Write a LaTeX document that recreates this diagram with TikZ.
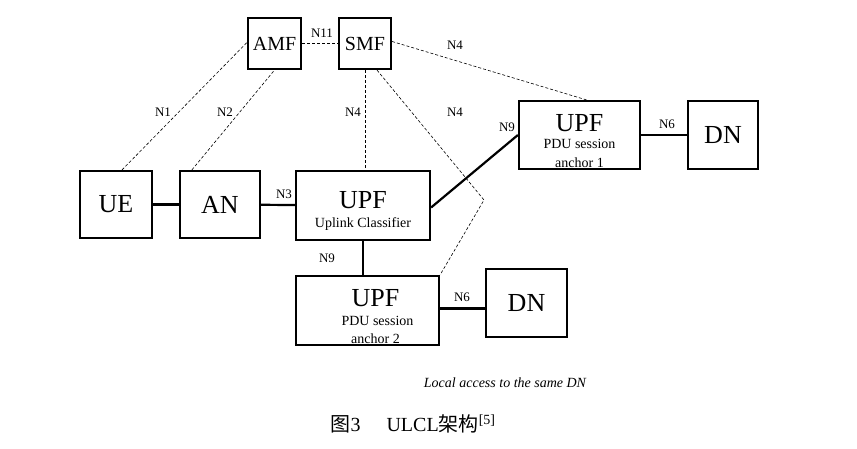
\documentclass[tikz,border=0pt]{standalone}
\usepackage{fontspec}
\setmainfont{Liberation Serif}
\newfontfamily\cjk{Noto Sans CJK SC}
\usetikzlibrary{positioning}

\tikzset{
  box/.style={draw, line width=2.2pt, inner sep=0pt, align=center},
  boxtxt/.style={inner sep=0pt, align=center},
  link/.style={line width=2.2pt},
  ctrl/.style={line width=0.6pt, dash pattern=on 3pt off 2pt},
  lbl/.style={font=\fontsize{13}{13}\selectfont, inner sep=0pt}
}
\newcommand{\bigtxt}{\fontsize{26}{28}\selectfont}
\newcommand{\midtxt}{\fontsize{20}{22}\selectfont}
\newcommand{\smalltxt}{\fontsize{14}{18}\selectfont}

\begin{document}
\begin{tikzpicture}[x=1pt, y=-1pt]
  \useasboundingbox (0,0) rectangle (857,449);

  % 网元
  \node[box, minimum width=53pt, minimum height=51pt] (amf) at (274.5,43.5) {\midtxt AMF};
  \node[box, minimum width=52pt, minimum height=51pt] (smf) at (365,43.5) {\midtxt SMF};
  \node[box, minimum width=72pt, minimum height=67pt] (ue) at (116,204.5) {\bigtxt UE};
  \node[box, minimum width=80pt, minimum height=67pt] (an) at (220,204.5) {\bigtxt AN};
  \node[box, minimum width=134pt, minimum height=69pt] (ul) at (363,205.5) {};
  \node[box, minimum width=121pt, minimum height=68pt] (a1) at (579.5,135) {};
  \node[box, minimum width=70pt, minimum height=68pt] (dn1) at (723,135) {\bigtxt DN};
  \node[box, minimum width=143pt, minimum height=69pt] (a2) at (367.5,310.5) {};
  \node[box, minimum width=81pt, minimum height=68pt] (dn2) at (526.5,303) {\bigtxt DN};

  % UPF 文本
  \node[boxtxt] (ult) at ([yshift=-5pt]ul.center)
    {\bigtxt UPF\\[7pt]\smalltxt Uplink Classifier};
  \node[boxtxt] (a1t) at ([yshift=-6pt]a1.center)
    {\bigtxt UPF\\[5pt]\smalltxt PDU session\\[7pt]\smalltxt anchor 1};
  \node[boxtxt] (a2t) at ([xshift=8pt, yshift=-6.5pt]a2.center)
    {\bigtxt UPF\\[7pt]\smalltxt\hspace*{4pt}PDU session\\[6pt]\smalltxt anchor 2};

  % 用户面
  \draw[link] (ue) -- (an);
  \draw[link] (an) -- (ul);
  \draw[link] ([yshift=-2pt]ul.east) -- (a1.west);
  \draw[link] (ul.south) -- (ul.south |- a2.north);
  \draw[link] (a1) -- (dn1);
  \draw[link] ([yshift=2pt]a2.east) -- ([yshift=2pt]a2.east -| dn2.west);

  % 控制面
  \coordinate (bend) at (484,200);
  \draw[ctrl] ([xshift=6pt]ue.north) -- ([yshift=1pt]amf.west);
  \draw[ctrl] ([xshift=13pt]an.north west) -- (amf.south);
  \draw[ctrl] (amf) -- (smf);
  \draw[ctrl] (smf.south) -- (smf.south |- ul.north);
  \draw[ctrl] ([yshift=2pt]smf.east) -- ([xshift=7pt]a1.north);
  \draw[ctrl] ([xshift=12pt]smf.south) -- (bend) -- (a2.north east);

  % 接口
  \node[lbl] (n1) at (163,112) {N1};
  \node[lbl] (n2) at (225,112) {N2};
  \node[lbl] (n11) at (322,33) {N11};
  \node[lbl] (n4a) at (353,112) {N4};
  \node[lbl] (n4b) at (455,45) {N4};
  \node[lbl] (n4c) at (455,112) {N4};
  \node[lbl] (n3) at (284,194) {N3};
  \node[lbl] (n9a) at (507,127) {N9};
  \node[lbl] (n9b) at (327,258) {N9};
  \node[lbl] (n6a) at (667,124) {N6};
  \node[lbl] (n6b) at (462,297) {N6};

  % 说明
  \node[font=\fontsize{14}{14}\selectfont\itshape] (note) at (505,383) {Local access to the same DN};
  \node[font=\fontsize{20}{20}\selectfont, anchor=west] (cap) at (327,424)
    {{\cjk 图}3\hspace{26pt}ULCL{\cjk 架构}\textsuperscript{[5]}};
\end{tikzpicture}
\end{document}
